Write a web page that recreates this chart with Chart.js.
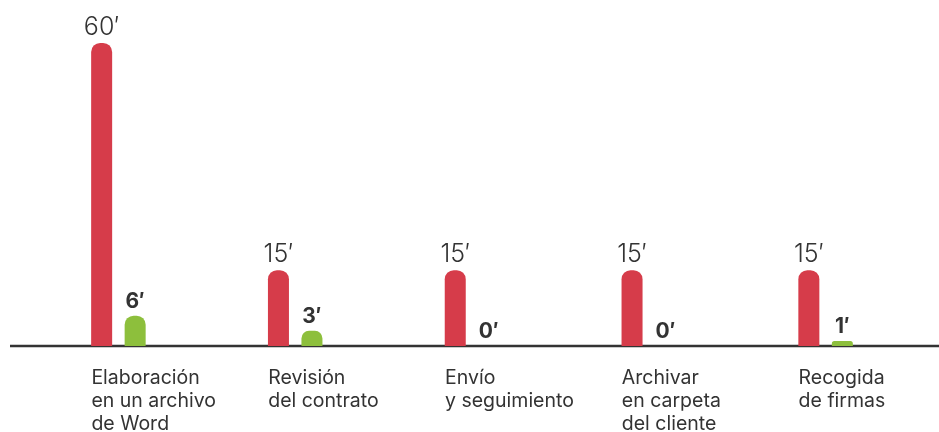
<!DOCTYPE html>
<html>
<head>
<meta charset="utf-8">
<script src="https://cdn.jsdelivr.net/npm/chart.js@4.4.0/dist/chart.umd.min.js"></script>
<style>
  html, body { margin: 0; padding: 0; background: #fff; overflow: hidden; }
  #wrap { width: 939px; height: 432px; position: relative; }
</style>
</head>
<body>
<div id="wrap"><canvas id="chart"></canvas></div>
<script>
"use strict";
// categories (multi-line labels)
let categories = [
  ["Elaboración", "en un archivo", "de Word"],
  ["Revisión", "del contrato"],
  ["Envío", "y seguimiento"],
  ["Archivar", "en carpeta", "del cliente"],
  ["Recogida", "de firmas"]
];
// minutes, before / after
let minutesBefore = [60, 15, 15, 15, 15];
let minutesAfter = [6, 3, 0, 0, 1];

const textColor = "#333333";

/**
 * Draws the value on top of each bar and the long base line.
 */
let barLabels = {
  id: 'barLabels',
  beforeDatasetsDraw(chart){
    let ctx = chart.ctx;
    let yScale = chart.scales.y;
    let y0 = yScale.getPixelForValue(0);
    ctx.save();
    ctx.strokeStyle = textColor;
    ctx.lineWidth = 2.5;
    ctx.beginPath();
    ctx.moveTo(10, y0);
    ctx.lineTo(chart.width, y0);
    ctx.stroke();
    ctx.restore();
  },
  afterDatasetsDraw(chart){
    let ctx = chart.ctx;
    ctx.save();
    ctx.fillStyle = textColor;
    ctx.textAlign = 'center';
    ctx.textBaseline = 'alphabetic';
    chart.data.datasets.forEach(function(ds, di){
      let meta = chart.getDatasetMeta(di);
      ctx.font = di == 0 ? "300 25px Inter" : "700 21px Inter";
      meta.data.forEach(function(bar, i){
        ctx.fillText(ds.data[i] + "\u2032", bar.x, bar.y - 8);
      });
    });
    ctx.restore();
  }
};

let chartData = {
  labels: categories,
  datasets: [
    {
      label: "Antes",
      data: minutesBefore,
      backgroundColor: "#d63c4a",
      borderRadius: 9,
      borderSkipped: 'bottom',
      categoryPercentage: 0.379,
      barPercentage: 0.627
    },
    {
      label: "Después",
      data: minutesAfter,
      backgroundColor: "#8dbf3c",
      borderRadius: 9,
      borderSkipped: 'bottom',
      categoryPercentage: 0.379,
      barPercentage: 0.627
    }
  ]
};

let barChart = new Chart(document.getElementById('chart'), {
  type: 'bar',
  data: chartData,
  plugins: [barLabels],
  options: {
    responsive: true,
    maintainAspectRatio: false,
    animation: false,
    layout: { padding: { left: 30, right: 25, top: 0, bottom: 0 } },
    plugins: {
      legend: { display: false },
      tooltip: { enabled: false }
    },
    scales: {
      y: {
        display: false,
        min: 0,
        max: 68.5
      },
      x: {
        grid: { display: false, drawTicks: false },
        border: { display: false },
        afterFit: function(scale){ scale.height = 86; },
        ticks: {
          align: 'start',
          labelOffset: -27,
          padding: 21,
          color: textColor,
          font: { family: "Inter", size: 19.5, weight: 400, lineHeight: 1.18 }
        }
      }
    }
  }
});
</script>
</body>
</html>
